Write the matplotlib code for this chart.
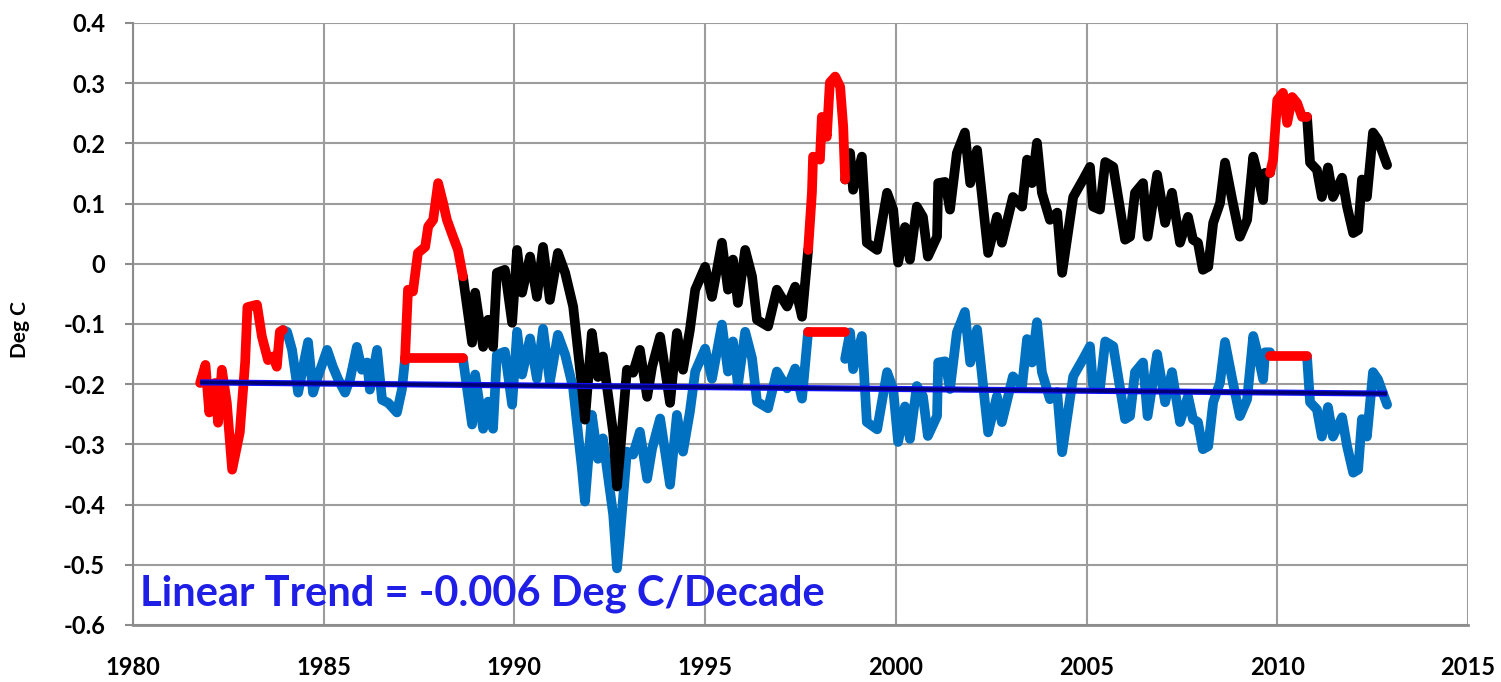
import matplotlib
matplotlib.use("Agg")
import matplotlib.pyplot as plt
import numpy as np

plt.rcParams['font.family'] = ['Lato', 'DejaVu Sans']

# Monthly temperature anomaly (Deg C), sampled at turning points
years = [
    1981.76, 1981.90, 1982.00, 1982.15, 1982.23, 1982.33, 1982.46, 1982.60, 1982.80, 1982.94,
    1983.00, 1983.25, 1983.38, 1983.54, 1983.67, 1983.77, 1983.85, 1983.93,
    1984.04, 1984.17, 1984.33, 1984.46, 1984.59, 1984.72, 1984.85, 1985.09, 1985.24, 1985.38,
    1985.56, 1985.69, 1985.87, 1986.00, 1986.14, 1986.21, 1986.40, 1986.53, 1986.69, 1986.92,
    1987.05, 1987.13,
    1987.21, 1987.34, 1987.47, 1987.66, 1987.74, 1987.87, 1988.00, 1988.13, 1988.23, 1988.39,
    1988.52, 1988.65,
    1988.89, 1988.97, 1989.18, 1989.31, 1989.44, 1989.54, 1989.75, 1989.94, 1990.07, 1990.20,
    1990.41, 1990.59, 1990.75, 1990.93, 1991.14, 1991.33, 1991.54, 1991.77, 1991.85, 1992.03,
    1992.19, 1992.32, 1992.59, 1992.69, 1992.77, 1992.95, 1993.11, 1993.29, 1993.48, 1993.61,
    1993.82, 1994.08, 1994.26, 1994.42, 1994.60, 1994.74, 1995.00, 1995.18, 1995.44, 1995.60,
    1995.73, 1995.86, 1996.05, 1996.23, 1996.36, 1996.65, 1996.88, 1997.15, 1997.36, 1997.54,
    1997.70,
    1997.80, 1997.83, 1998.01, 1998.06, 1998.19, 1998.27, 1998.41, 1998.54, 1998.62, 1998.67,
    1998.80, 1998.88, 1999.11, 1999.24, 1999.51, 1999.77, 1999.93, 2000.06, 2000.24, 2000.37,
    2000.55, 2000.71, 2000.84, 2001.08, 2001.11, 2001.29, 2001.42, 2001.60, 2001.81, 2001.95,
    2002.13, 2002.42, 2002.65, 2002.78, 2003.07, 2003.31, 2003.44, 2003.57, 2003.70, 2003.83,
    2004.04, 2004.23, 2004.36, 2004.65, 2004.91, 2005.09, 2005.17, 2005.35, 2005.49, 2005.70,
    2006.01, 2006.14, 2006.27, 2006.48, 2006.60, 2006.85, 2007.06, 2007.24, 2007.45, 2007.66,
    2007.79, 2007.92, 2008.05, 2008.19, 2008.32, 2008.50, 2008.63, 2008.82, 2009.02, 2009.21,
    2009.37, 2009.50, 2009.63, 2009.68, 2009.81,
    2009.89, 2010.00, 2010.15, 2010.26, 2010.39, 2010.52, 2010.65, 2010.78,
    2010.86, 2011.04, 2011.17, 2011.33, 2011.46, 2011.70, 2011.83, 2011.99, 2012.12, 2012.22,
    2012.35, 2012.51, 2012.64, 2012.88,
]
anom = [
    -0.198, -0.168, -0.247, -0.198, -0.264, -0.176, -0.231, -0.342, -0.280, -0.164,
    -0.072, -0.068, -0.121, -0.160, -0.154, -0.171, -0.113, -0.110,
    -0.113, -0.143, -0.214, -0.171, -0.130, -0.214, -0.187, -0.143, -0.171, -0.192,
    -0.214, -0.192, -0.138, -0.176, -0.164, -0.209, -0.143, -0.226, -0.231, -0.247,
    -0.209, -0.160,
    -0.043, -0.046, 0.018, 0.028, 0.062, 0.073, 0.134, 0.101, 0.073, 0.045,
    0.023, -0.021,
    -0.131, -0.048, -0.138, -0.093, -0.138, -0.015, -0.010, -0.098, 0.023, -0.048,
    0.012, -0.055, 0.028, -0.060, 0.018, -0.015, -0.071, -0.204, -0.259, -0.115,
    -0.188, -0.154, -0.281, -0.370, -0.314, -0.176, -0.181, -0.143, -0.221, -0.171,
    -0.121, -0.231, -0.115, -0.176, -0.110, -0.043, -0.005, -0.055, 0.035, -0.043,
    0.007, -0.065, 0.023, -0.021, -0.093, -0.104, -0.043, -0.071, -0.038, -0.088,
    0.023,
    0.118, 0.178, 0.173, 0.244, 0.211, 0.301, 0.311, 0.294, 0.228, 0.140,
    0.184, 0.123, 0.178, 0.035, 0.023, 0.118, 0.090, 0.002, 0.061, 0.007,
    0.095, 0.078, 0.012, 0.045, 0.134, 0.136, 0.090, 0.184, 0.218, 0.134,
    0.189, 0.018, 0.078, 0.035, 0.111, 0.095, 0.173, 0.134, 0.201, 0.118,
    0.073, 0.085, -0.015, 0.111, 0.140, 0.161, 0.095, 0.090, 0.169, 0.161,
    0.040, 0.045, 0.118, 0.134, 0.045, 0.148, 0.068, 0.118, 0.035, 0.078,
    0.040, 0.035, -0.010, -0.005, 0.068, 0.101, 0.168, 0.106, 0.045, 0.073,
    0.178, 0.145, 0.106, 0.151, 0.151,
    0.173, 0.272, 0.284, 0.234, 0.277, 0.267, 0.244, 0.244,
    0.168, 0.156, 0.111, 0.160, 0.111, 0.143, 0.095, 0.051, 0.056, 0.140,
    0.111, 0.218, 0.206, 0.164,
]

# El Nino windows and the step removed after each one
nino_start = [1981.76, 1987.13, 1997.70, 2009.81]
nino_end = [1983.93, 1988.65, 1998.67, 2010.78]
step_level = [None, -0.157, -0.113, -0.154]   # flat value held through the event
offsets = [0.0, 0.136, 0.298, 0.398]           # cumulative shift after each event

trend_per_decade = -0.006
trend_start = -0.197

t = np.array(years)
y = np.array(anom)

in_nino = np.zeros(len(t), dtype=bool)
for s, e in zip(nino_start, nino_end):
    in_nino |= (t > s + 1e-6) & (t < e - 1e-6)

# shift applied to the adjusted series, by period
shift = np.zeros(len(t))
for k in range(1, len(nino_end)):
    shift[t >= nino_end[k] - 1e-6] = offsets[k]

black = np.where((t >= nino_end[1] - 1e-6) & ~in_nino, y, np.nan)
blue = np.where((t >= nino_end[0] - 1e-6) & ~in_nino, y - shift, np.nan)

lw = 7.0
kw = dict(solid_joinstyle='round', solid_capstyle='round')

fig = plt.figure(figsize=(15.01, 6.82), dpi=100)
ax = fig.add_axes([0.0886, 0.0836, 0.8894, 0.8827])

ax.plot(t, blue, color='#0070C0', lw=lw, zorder=3, **kw)
ax.plot(t, black, color='black', lw=lw, zorder=4, **kw)
for s, e in zip(nino_start, nino_end):
    m = (t >= s - 1e-6) & (t <= e + 1e-6)
    ax.plot(t[m], y[m], color='#FF0000', lw=lw, zorder=5, **kw)
for s, e, lev in zip(nino_start, nino_end, step_level):
    if lev is not None:
        ax.plot([s, e], [lev, lev], color='#FF0000', lw=lw, zorder=5, **kw)

# linear trend of the adjusted series
tx = np.array([t[0], t[-1]])
ty = trend_start + trend_per_decade / 10 * (tx - t[0])
ax.plot(tx, ty, color='#1010FF', lw=4.4, zorder=6, solid_capstyle='butt')
ax.plot(tx, ty, color='#000070', lw=2.6, zorder=7, solid_capstyle='butt')

ax.text(1980.18, -0.548, 'Linear Trend = -0.006 Deg C/Decade', color='#1E1EE6',
        fontsize=30, fontweight='bold', va='center', ha='left', zorder=8)

ax.set_xlim(1980, 2015)
ax.set_ylim(-0.6, 0.4)
ax.set_xticks(np.arange(1980, 2016, 5))
yt = np.round(np.arange(-0.6, 0.41, 0.1), 1)
ax.set_yticks(yt)
ax.set_yticklabels(['0' if v == 0 else '%.1f' % v for v in yt])
for lab in ax.get_xticklabels() + ax.get_yticklabels():
    lab.set_fontweight('bold')
    lab.set_fontsize(17)

ax.grid(True, color='#9C9C9C', lw=1.5)
ax.set_axisbelow(True)
for side in ['top', 'right']:
    ax.spines[side].set_visible(False)
ax.spines['left'].set_color('#8C8C8C')
ax.spines['left'].set_linewidth(1.5)
ax.spines['bottom'].set_color('#8C8C8C')
ax.spines['bottom'].set_linewidth(2)
ax.tick_params(axis='y', length=6, width=1.5, color='#8C8C8C', pad=14)
ax.tick_params(axis='x', length=0, pad=22)

fig.text(20 / 1501, 1 - 330 / 682, 'Deg C', rotation=90, fontsize=15,
         fontweight='bold', ha='center', va='center')

fig.savefig('out.png', dpi=100)
